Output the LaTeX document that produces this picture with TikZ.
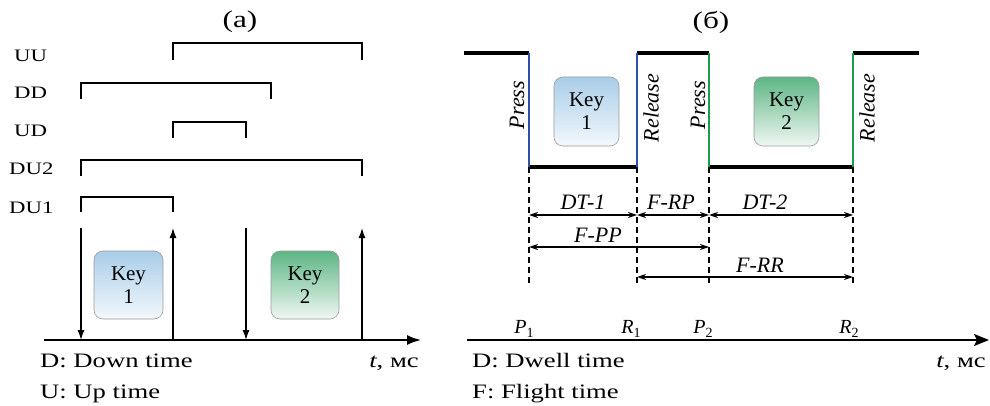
\documentclass[tikz,border=0pt]{standalone}
\usepackage{fontspec}
\setmainfont{Liberation Serif}
\newfontfamily\widefont[FakeStretch=1.3]{Liberation Serif}
\usetikzlibrary{arrows.meta}
\definecolor{keyblue}{HTML}{A9CDE8}
\definecolor{keybluelow}{HTML}{F3F8FC}
\definecolor{keygreen}{HTML}{5DB585}
\definecolor{keygreenlow}{HTML}{F0F8F3}
\definecolor{wblue}{HTML}{2D4FA8}
\definecolor{wgreen}{HTML}{1E9A48}
\definecolor{kborder}{HTML}{9A9A9A}
\begin{document}
\begin{tikzpicture}[x=1pt,y=-1pt,
  lbl/.style={font=\widefont\fontsize{17.5}{20}\selectfont, anchor=base west, inner sep=0},
  legend/.style={font=\widefont\fontsize{20.5}{24}\selectfont, anchor=base west, inner sep=0},
  ttl/.style={font=\widefont\fontsize{24}{28}\selectfont, inner sep=0},
  keybox/.style={draw=kborder, line width=0.6pt, rounded corners=9pt, align=center,
     font=\fontsize{21}{23}\selectfont, inner sep=0},
  brk/.style={line width=1.3pt},
  ev/.style={line width=1.3pt, -{Latex[length=10pt,width=7pt]}},
  axisline/.style={line width=1.8pt},
  wave/.style={line width=3.2pt},
  edgeb/.style={line width=2.2pt, wblue},
  edgeg/.style={line width=2.2pt, wgreen},
  dashln/.style={line width=2.6pt, dash pattern=on 6pt off 4pt},
  dim/.style={line width=1.2pt, {Stealth[length=9pt,width=6pt]}-{Stealth[length=9pt,width=6pt]}},
  ital/.style={font=\itshape\fontsize{22}{24}\selectfont, inner sep=0},
  sub/.style={font=\itshape\fontsize{20}{22}\selectfont, inner sep=0}
]
\useasboundingbox (0,0) rectangle (990,406);

% ---------------- (a) ----------------
\node[ttl] (ta) at (240,22) {(a)};
\node[lbl] (lUU)  at (14,62)  {UU};
\node[lbl] (lDD)  at (14,99)  {DD};
\node[lbl] (lUD)  at (14,137) {UD};
\node[lbl] (lDU2) at (9,175)  {DU2};
\node[lbl] (lDU1) at (9,213)  {DU1};

\draw[brk] (173,60)  -- (173,43)  -- (362,43)  -- (362,60);
\draw[brk] (81,99)   -- (81,83)   -- (271,83)  -- (271,99);
\draw[brk] (173,138) -- (173,122) -- (246,122) -- (246,138);
\draw[brk] (81,176)  -- (81,160)  -- (362,160) -- (362,176);
\draw[brk] (81,212)  -- (81,197)  -- (173,197) -- (173,212);

\coordinate (aL) at (44,340);
\coordinate (aR) at (421,340);
\draw[axisline, -{Latex[length=14pt,width=10pt]}] (aL) -- (aR);

\coordinate (d1t) at (81,228);  \coordinate (d1) at (81,340);
\coordinate (u1t) at (173,228); \coordinate (u1) at (173,340);
\coordinate (d2t) at (246,228); \coordinate (d2) at (246,340);
\coordinate (u2t) at (362,228); \coordinate (u2) at (362,340);
\draw[ev] (d1t) -- (d1);
\draw[ev] (u1) -- (u1t);
\draw[ev] (d2t) -- (d2);
\draw[ev] (u2) -- (u2t);

\node[keybox, top color=keyblue, bottom color=keybluelow, minimum width=69pt, minimum height=68pt]
  (ka1) at (128.5,285) {Key\\1};
\node[keybox, top color=keygreen, bottom color=keygreenlow, minimum width=68pt, minimum height=68pt]
  (ka2) at (305,285) {Key\\2};

\node[legend] (la1) at (40,367) {D: Down time};
\node[legend] (la2) at (40,398) {U: Up time};
\node[legend, anchor=base] (lta) at (394,367) {\textit{t}, мс};

% ---------------- (б) ----------------
\node[ttl] (tb) at (711,22) {(б)};

\coordinate (w0) at (464,53);
\coordinate (p1t) at (529,53);  \coordinate (p1b) at (529,167);
\coordinate (r1t) at (637,53);  \coordinate (r1b) at (637,167);
\coordinate (p2t) at (709,53);  \coordinate (p2b) at (709,167);
\coordinate (r2t) at (853,53);  \coordinate (r2b) at (853,167);
\coordinate (w9) at (919,53);

\draw[wave] (w0) -- (p1t);
\draw[wave] (p1b) -- (r1b);
\draw[wave] (r1t) -- (p2t);
\draw[wave] (p2b) -- (r2b);
\draw[wave] (r2t) -- (w9);
\draw[edgeb] (p1t) -- (p1b);
\draw[edgeb] (r1t) -- (r1b);
\draw[edgeg] (p2t) -- (p2b);
\draw[edgeg] (r2t) -- (r2b);

\node[ital, rotate=90] (pr1) at (517,105) {Press};
\node[ital, rotate=90] (re1) at (651,108) {Release};
\node[ital, rotate=90] (pr2) at (698,105) {Press};
\node[ital, rotate=90] (re2) at (867,108) {Release};

\node[keybox, top color=keyblue, bottom color=keybluelow, minimum width=65pt, minimum height=69pt]
  (kb1) at (586.5,111.5) {Key\\1};
\node[keybox, top color=keygreen, bottom color=keygreenlow, minimum width=65pt, minimum height=69pt]
  (kb2) at (786.5,111.5) {Key\\2};

\coordinate (p1e) at (529,283); \coordinate (r1e) at (637,283);
\coordinate (p2e) at (709,283); \coordinate (r2e) at (853,283);
\draw[dashln] (p1b) -- (p1e);
\draw[dashln] (r1b) -- (r1e);
\draw[dashln] (p2b) -- (p2e);
\draw[dashln] (r2b) -- (r2e);

\coordinate (a1) at (529,215); \coordinate (a2) at (637,215);
\coordinate (a3) at (709,215); \coordinate (a4) at (853,215);
\draw[dim] (a1) -- (a2);
\draw[dim] (a2) -- (a3);
\draw[dim] (a3) -- (a4);
\coordinate (b1) at (529,247); \coordinate (b2) at (709,247);
\draw[dim] (b1) -- (b2);
\coordinate (c1) at (637,277); \coordinate (c2) at (853,277);
\draw[dim] (c1) -- (c2);

\node[ital, anchor=base] (dt1) at (583,210) {DT-1};
\node[ital, anchor=base] (frp) at (671,210) {F-RP};
\node[ital, anchor=base] (dt2) at (765,210) {DT-2};
\node[ital, anchor=base] (fpp) at (598,242) {F-PP};
\node[ital, anchor=base] (frr) at (760,272) {F-RR};

\node[sub, anchor=base] (P1) at (524,333) {P\raisebox{-4pt}{\upshape\fontsize{14}{14}\selectfont 1}};
\node[sub, anchor=base] (R1) at (631,333) {R\raisebox{-4pt}{\upshape\fontsize{14}{14}\selectfont 1}};
\node[sub, anchor=base] (P2) at (703,333) {P\raisebox{-4pt}{\upshape\fontsize{14}{14}\selectfont 2}};
\node[sub, anchor=base] (R2) at (849,333) {R\raisebox{-4pt}{\upshape\fontsize{14}{14}\selectfont 2}};

\coordinate (bL) at (467,340);
\coordinate (bR) at (989,340);
\draw[axisline, -{Stealth[length=15pt,width=12pt,inset=3pt]}] (bL) -- (bR);

\node[legend] (lb1) at (472,367) {D: Dwell time};
\node[legend] (lb2) at (472,398) {F: Flight time};
\node[legend, anchor=base] (ltb) at (961,367) {\textit{t}, мс};
\end{tikzpicture}
\end{document}
